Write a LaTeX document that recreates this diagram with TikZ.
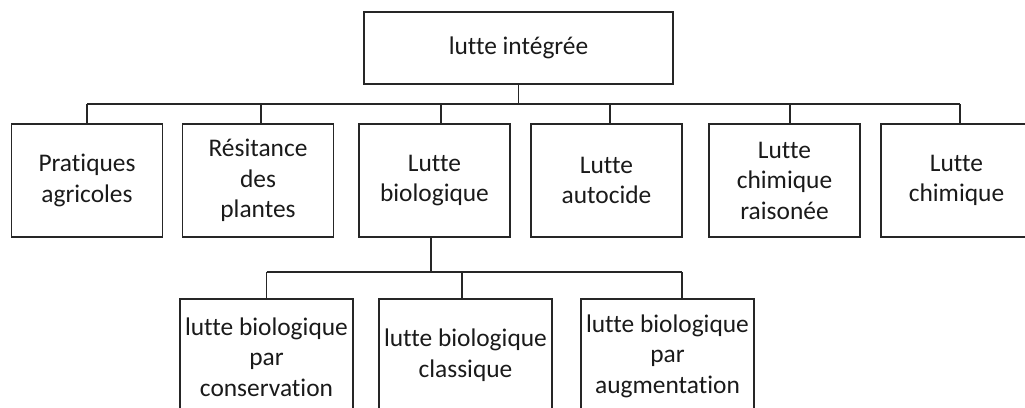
\documentclass[tikz,border=0pt]{standalone}
\usepackage{fontspec}
\setmainfont{Carlito}[Ligatures={NoCommon,NoContextual}]
\definecolor{linecol}{HTML}{262626}
\definecolor{txtcol}{HTML}{1A1A1A}
\begin{document}
\begin{tikzpicture}[x=1pt,y=-1pt,
  box/.style={draw=linecol, line width=1.6pt, align=center, inner sep=0pt,
    text=txtcol, font=\fontsize{25.4}{30.5}\selectfont},
  midbox/.style={box, minimum width=151pt, minimum height=113pt},
  lowbox/.style={box, minimum width=173pt},
  conn/.style={draw=linecol, line width=1.6pt}]
\clip (0,0) rectangle (1025,407);
\fill[white] (0,0) rectangle (1025,407);
% top
\node[box, minimum width=309pt, minimum height=72pt] (top) at (518.5,48) {lutte intégrée};
% level 2
\node[midbox] (b1) at (87,180.5) {Pratiques\\agricoles};
\node[midbox] (b2) at (258,180.5) {Résitance\\des\\plantes};
\node[midbox] (b3) at (434.5,180.5) {Lutte\\biologique};
\node[midbox] (b4) at (606.5,180.5) {Lutte\\autocide};
\node[midbox] (b5) at (784.5,180.5) {Lutte\\chimique\\raisonée};
\node[midbox] (b6) at (956.5,180.5) {Lutte\\chimique};
% level 3
\node[lowbox, minimum height=116pt] (l1) at (266.5,357) {lutte biologique\\par\\conservation};
\node[lowbox, minimum height=112pt] (l2) at (465.5,355) {lutte biologique\\classique};
\node[lowbox, minimum height=114pt] (l3) at (667.5,356) {lutte biologique\\par\\augmentation};
% bus coordinates
\coordinate (bus1) at (0,104);
\coordinate (bus2) at (0,272);
\coordinate (t0) at (top.south);
\coordinate (c1) at (b1.north);
\coordinate (c2) at ([xshift=3pt]b2.north);
\coordinate (c3) at ([xshift=6.5pt]b3.north);
\coordinate (c4) at ([xshift=3.5pt]b4.north);
\coordinate (c5) at ([xshift=5.5pt]b5.north);
\coordinate (c6) at ([xshift=3.5pt]b6.north);
\coordinate (s3) at ([xshift=-3.5pt]b3.south);
\coordinate (d1) at (l1.north);
\coordinate (d2) at ([xshift=-3.5pt]l2.north);
\coordinate (d3) at ([xshift=14.5pt]l3.north);
% connectors level 1-2
\draw[conn] (t0) -- (t0 |- bus1);
\draw[conn] (c1 |- bus1) -- (c6 |- bus1);
\foreach \c in {c1,c2,c3,c4,c5,c6} \draw[conn] (\c |- bus1) -- (\c);
% connectors level 2-3
\draw[conn] (s3) -- (s3 |- bus2);
\draw[conn] (d1 |- bus2) -- (d3 |- bus2);
\foreach \c in {d1,d2,d3} \draw[conn] (\c |- bus2) -- (\c);
\end{tikzpicture}
\end{document}
